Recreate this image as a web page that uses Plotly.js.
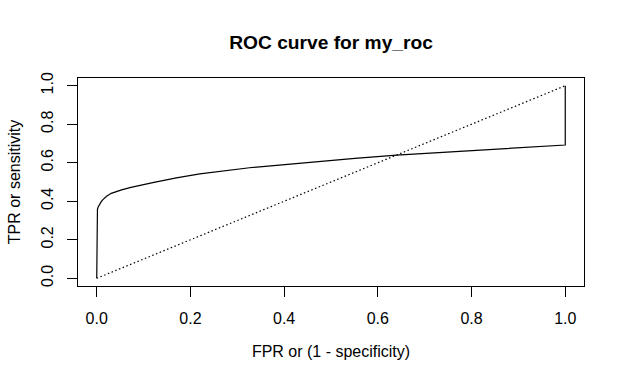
<!DOCTYPE html>
<html>
<head>
<meta charset="utf-8">
<script src="https://cdn.plot.ly/plotly-3.0.1.min.js"></script>
<style>html,body{margin:0;padding:0;background:#fff;}#chart{width:624px;height:384px;}</style>
</head>
<body>
<div id="chart"></div>
<script>
// ROC curve
var fpr = [0, 0, 0.0005, 0.0015, 0.003, 0.006, 0.01, 0.0137, 0.021, 0.031, 0.042, 0.053, 0.073, 0.1, 0.122, 0.17, 0.22, 0.326, 0.433, 0.551, 0.64, 0.735, 0.835, 0.92, 1.0, 1.0];
var tpr = [0, 0.33, 0.345, 0.358, 0.37, 0.385, 0.399, 0.41, 0.426, 0.441, 0.451, 0.459, 0.472, 0.487, 0.498, 0.521, 0.542, 0.574, 0.598, 0.623, 0.640, 0.654, 0.666, 0.680, 0.692, 1.0];
// chance diagonal
var diagX = [0, 1];
var diagY = [0, 1];
var tickVals = [0, 0.2, 0.4, 0.6, 0.8, 1.0];
var tickText = ["0.0", "0.2", "0.4", "0.6", "0.8", "1.0"];

var font = {family: "Liberation Sans, Arial, sans-serif", size: 16, color: "#000"};

var traces = [
  {x: fpr, y: tpr, type: "scatter", mode: "lines", line: {color: "#000", width: 1.2, shape: "linear"}, hoverinfo: "skip"},
  {x: diagX, y: diagY, type: "scatter", mode: "lines", line: {color: "#000", width: 1.2, dash: "1.5px,2.5px"}, hoverinfo: "skip"}
];

var axisCommon = {
  tickvals: tickVals, ticktext: tickText,
  ticks: "outside", ticklen: 9.6, tickwidth: 1, tickcolor: "#000",
  showline: true, linecolor: "#000", linewidth: 1, mirror: true,
  showgrid: false, zeroline: false, tickfont: font, automargin: false
};

var layout = {
  width: 624, height: 384,
  paper_bgcolor: "#fff", plot_bgcolor: "#fff",
  margin: {l: 78, r: 40, t: 78, b: 98},
  showlegend: false,
  font: font,
  title: {text: "<b>ROC curve for my_roc</b>", font: {family: "Liberation Sans, Arial, sans-serif", size: 19.2, color: "#000"},
          x: 0.5, xref: "paper", xanchor: "center", y: 1 - 42/384, yref: "container", yanchor: "middle"},
  xaxis: Object.assign({}, axisCommon, {
    range: [-0.04, 1.04],
    ticklabelstandoff: 8,
    title: {text: "FPR or (1 - specificity)", font: font, standoff: 20}
  }),
  yaxis: Object.assign({}, axisCommon, {
    range: [-0.04, 1.04],
    tickangle: -90,
    ticklabelstandoff: 8,
    title: {text: "TPR or sensitivity", font: font, standoff: 14}
  })
};

Plotly.newPlot("chart", traces, layout, {staticPlot: true, displayModeBar: false});
</script>
</body>
</html>
